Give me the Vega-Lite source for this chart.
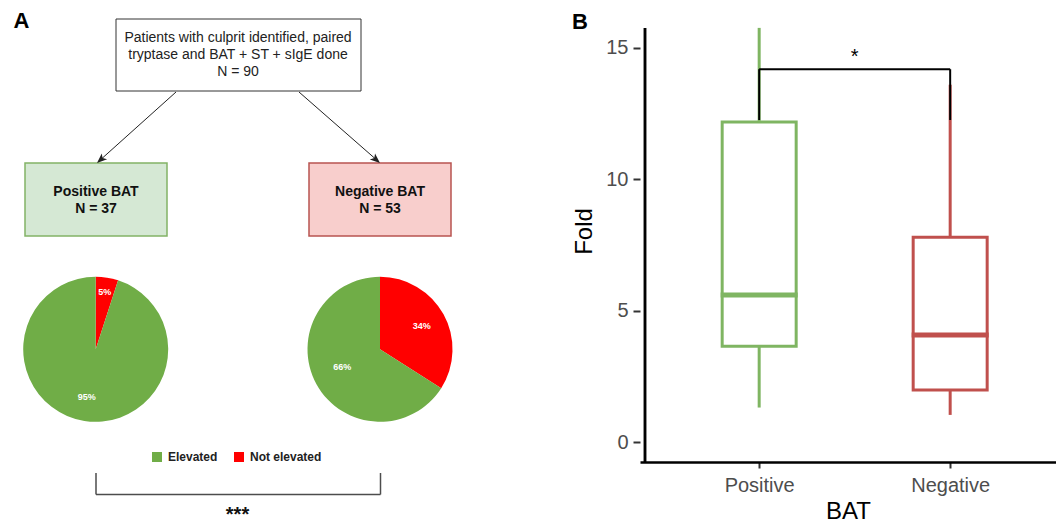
{
  "$schema": "https://vega.github.io/schema/vega-lite/v6.json",
  "padding": 0,
  "bounds": "flush",
  "spacing": 40,
  "background": "white",
  "config": {
    "font": "Liberation Sans",
    "view": {"stroke": null}
  },
  "resolve": {"scale": {"color": "independent"}, "legend": {"color": "independent"}},
  "hconcat": [
    {
      "width": 600,
      "height": 525,
      "layer": [
        {
          "data": {"values": [{"x": 116, "x2": 361, "y": 19, "y2": 91}]},
          "mark": {"type": "rect", "fill": "white", "stroke": "#333333", "strokeWidth": 1},
          "encoding": {
            "x": {"field": "x", "type": "quantitative", "scale": {"domain": [0, 600], "nice": false}, "axis": null},
            "x2": {"field": "x2"},
            "y": {"field": "y", "type": "quantitative", "scale": {"domain": [0, 525], "nice": false, "reverse": true}, "axis": null},
            "y2": {"field": "y2"}
          }
        },
        {
          "data": {"values": [{"x": 25, "x2": 167, "y": 163, "y2": 236}]},
          "mark": {"type": "rect", "fill": "#d5e8d4", "stroke": "#82b366", "strokeWidth": 1.5},
          "encoding": {
            "x": {"field": "x", "type": "quantitative", "scale": {"domain": [0, 600], "nice": false}, "axis": null},
            "x2": {"field": "x2"},
            "y": {"field": "y", "type": "quantitative", "scale": {"domain": [0, 525], "nice": false, "reverse": true}, "axis": null},
            "y2": {"field": "y2"}
          }
        },
        {
          "data": {"values": [{"x": 309, "x2": 451, "y": 163, "y2": 236}]},
          "mark": {"type": "rect", "fill": "#f8cecc", "stroke": "#b85450", "strokeWidth": 1.5},
          "encoding": {
            "x": {"field": "x", "type": "quantitative", "scale": {"domain": [0, 600], "nice": false}, "axis": null},
            "x2": {"field": "x2"},
            "y": {"field": "y", "type": "quantitative", "scale": {"domain": [0, 525], "nice": false, "reverse": true}, "axis": null},
            "y2": {"field": "y2"}
          }
        },
        {
          "data": {"values": [
            {"t": "Patients with culprit identified, paired", "x": 238, "y": 37.7},
            {"t": "tryptase and BAT + ST + sIgE done", "x": 238, "y": 55},
            {"t": "N = 90", "x": 238, "y": 72.3}
          ]},
          "mark": {"type": "text", "fontSize": 14, "color": "#222222", "align": "center", "baseline": "middle"},
          "encoding": {
            "x": {"field": "x", "type": "quantitative", "scale": {"domain": [0, 600], "nice": false}, "axis": null},
            "y": {"field": "y", "type": "quantitative", "scale": {"domain": [0, 525], "nice": false, "reverse": true}, "axis": null},
            "text": {"field": "t"}
          }
        },
        {
          "data": {"values": [
            {"t": "Positive BAT", "x": 96, "y": 191.7},
            {"t": "N = 37", "x": 96, "y": 209.3},
            {"t": "Negative BAT", "x": 380, "y": 191.7},
            {"t": "N = 53", "x": 380, "y": 209.3}
          ]},
          "mark": {"type": "text", "fontSize": 14, "fontWeight": "bold", "color": "#111111", "align": "center", "baseline": "middle"},
          "encoding": {
            "x": {"field": "x", "type": "quantitative", "scale": {"domain": [0, 600], "nice": false}, "axis": null},
            "y": {"field": "y", "type": "quantitative", "scale": {"domain": [0, 525], "nice": false, "reverse": true}, "axis": null},
            "text": {"field": "t"}
          }
        },
        {
          "data": {"values": [
            {"x": 176, "y": 92, "x2": 98, "y2": 162},
            {"x": 299, "y": 92, "x2": 379, "y2": 162}
          ]},
          "mark": {"type": "rule", "color": "#222222", "strokeWidth": 1},
          "encoding": {
            "x": {"field": "x", "type": "quantitative", "scale": {"domain": [0, 600], "nice": false}, "axis": null},
            "x2": {"field": "x2"},
            "y": {"field": "y", "type": "quantitative", "scale": {"domain": [0, 525], "nice": false, "reverse": true}, "axis": null},
            "y2": {"field": "y2"}
          }
        },
        {
          "data": {"values": [{"x": 100.7, "y": 159.7}]},
          "mark": {"type": "point", "shape": "M0,1L-0.8,-1L0,-0.5L0.8,-1Z", "size": 100, "filled": true, "color": "#222222", "opacity": 1, "angle": 48},
          "encoding": {
            "x": {"field": "x", "type": "quantitative", "scale": {"domain": [0, 600], "nice": false}, "axis": null},
            "y": {"field": "y", "type": "quantitative", "scale": {"domain": [0, 525], "nice": false, "reverse": true}, "axis": null}
          }
        },
        {
          "data": {"values": [{"x": 376.2, "y": 159.7}]},
          "mark": {"type": "point", "shape": "M0,1L-0.8,-1L0,-0.5L0.8,-1Z", "size": 100, "filled": true, "color": "#222222", "opacity": 1, "angle": 311},
          "encoding": {
            "x": {"field": "x", "type": "quantitative", "scale": {"domain": [0, 600], "nice": false}, "axis": null},
            "y": {"field": "y", "type": "quantitative", "scale": {"domain": [0, 525], "nice": false, "reverse": true}, "axis": null}
          }
        },
        {
          "data": {"values": [
            {"group": "Positive BAT", "x": 95.7, "y": 349.3, "status": "Not elevated", "start": 0, "end": 5},
            {"group": "Positive BAT", "x": 95.7, "y": 349.3, "status": "Elevated", "start": 5, "end": 100},
            {"group": "Negative BAT", "x": 380, "y": 349.3, "status": "Not elevated", "start": 0, "end": 34},
            {"group": "Negative BAT", "x": 380, "y": 349.3, "status": "Elevated", "start": 34, "end": 100}
          ]},
          "mark": {"type": "arc", "radius": 72.5},
          "encoding": {
            "x": {"field": "x", "type": "quantitative", "scale": {"domain": [0, 600], "nice": false}, "axis": null},
            "y": {"field": "y", "type": "quantitative", "scale": {"domain": [0, 525], "nice": false, "reverse": true}, "axis": null},
            "theta": {"field": "start", "type": "quantitative", "stack": null, "scale": {"domain": [0, 100]}},
            "theta2": {"field": "end"},
            "color": {
              "field": "status", "type": "nominal",
              "scale": {"domain": ["Elevated", "Not elevated"], "range": ["#70ad47", "#ff0000"]},
              "legend": {
                "orient": "none", "legendX": 151, "legendY": 451, "direction": "horizontal", "title": null,
                "symbolType": "square", "symbolSize": 100, "symbolStrokeWidth": 0, "symbolOpacity": 1,
                "labelFontSize": 12, "labelFontWeight": "bold", "labelColor": "#222222", "labelOffset": 5,
                "columnPadding": 15, "padding": 0, "rowPadding": 0
              }
            }
          }
        },
        {
          "data": {"values": [
            {"t": "5%", "x": 104.7, "y": 291.7},
            {"t": "95%", "x": 86.7, "y": 396.7},
            {"t": "34%", "x": 421.7, "y": 326},
            {"t": "66%", "x": 342.3, "y": 366.7}
          ]},
          "mark": {"type": "text", "fontSize": 9, "fontWeight": "bold", "color": "white", "align": "center", "baseline": "middle"},
          "encoding": {
            "x": {"field": "x", "type": "quantitative", "scale": {"domain": [0, 600], "nice": false}, "axis": null},
            "y": {"field": "y", "type": "quantitative", "scale": {"domain": [0, 525], "nice": false, "reverse": true}, "axis": null},
            "text": {"field": "t"}
          }
        },
        {
          "data": {"values": [
            {"x": 96, "y": 473, "x2": 96, "y2": 494.5},
            {"x": 96, "y": 494.5, "x2": 380.5, "y2": 494.5},
            {"x": 380.5, "y": 473, "x2": 380.5, "y2": 494.5}
          ]},
          "mark": {"type": "rule", "color": "#4d4d4d", "strokeWidth": 1.5},
          "encoding": {
            "x": {"field": "x", "type": "quantitative", "scale": {"domain": [0, 600], "nice": false}, "axis": null},
            "x2": {"field": "x2"},
            "y": {"field": "y", "type": "quantitative", "scale": {"domain": [0, 525], "nice": false, "reverse": true}, "axis": null},
            "y2": {"field": "y2"}
          }
        },
        {
          "data": {"values": [{"t": "***", "x": 237.5, "y": 521}]},
          "mark": {"type": "text", "fontSize": 20, "fontWeight": "bold", "color": "#111111", "align": "center", "baseline": "alphabetic"},
          "encoding": {
            "x": {"field": "x", "type": "quantitative", "scale": {"domain": [0, 600], "nice": false}, "axis": null},
            "y": {"field": "y", "type": "quantitative", "scale": {"domain": [0, 525], "nice": false, "reverse": true}, "axis": null},
            "text": {"field": "t"}
          }
        },
        {
          "data": {"values": [
            {"t": "A", "x": 21.5, "y": 28.3},
            {"t": "B", "x": 580, "y": 29.3}
          ]},
          "mark": {"type": "text", "fontSize": 22, "fontWeight": "bold", "color": "black", "align": "center", "baseline": "alphabetic"},
          "encoding": {
            "x": {"field": "x", "type": "quantitative", "scale": {"domain": [0, 600], "nice": false}, "axis": null},
            "y": {"field": "y", "type": "quantitative", "scale": {"domain": [0, 525], "nice": false, "reverse": true}, "axis": null},
            "text": {"field": "t"}
          }
        }
      ]
    },
    {
      "width": 416,
      "height": 462,
      "data": {"values": [
        {"bat": "Positive", "i": 1, "lo": 1.32, "q1": 3.65, "med": 5.6, "q3": 12.17, "hi": 15.75},
        {"bat": "Negative", "i": 2, "lo": 1.04, "q1": 1.99, "med": 4.08, "q3": 7.79, "hi": 13.59}
      ]},
      "layer": [
        {
          "mark": {"type": "rule", "strokeWidth": 3},
          "encoding": {
            "x": {
              "field": "i", "type": "quantitative", "title": "BAT",
              "scale": {"domain": [0.4022, 2.5279], "nice": false, "zero": false},
              "axis": {
                "values": [1, 2], "labelExpr": "datum.value == 1 ? 'Positive' : 'Negative'",
                "grid": false, "domainColor": "black", "domainWidth": 2.5,
                "tickColor": "#333333", "tickWidth": 2, "tickSize": 6,
                "labelFontSize": 20, "labelColor": "#4d4d4d", "labelPadding": 7,
                "titleFontSize": 24, "titleFontWeight": "normal", "titleColor": "black", "titlePadding": 4
              }
            },
            "y": {
              "field": "lo", "type": "quantitative", "title": "Fold",
              "scale": {"domain": [-0.75, 16.81], "nice": false, "zero": false},
              "axis": {
                "values": [0, 5, 10, 15], "domain": false, "grid": false,
                "tickColor": "#333333", "tickWidth": 2, "tickSize": 7,
                "labelFontSize": 20, "labelColor": "#4d4d4d", "labelPadding": 5,
                "titleFontSize": 24, "titleFontWeight": "normal", "titleColor": "black", "titlePadding": 9
              }
            },
            "y2": {"field": "q1"},
            "color": {"field": "bat", "type": "nominal", "scale": {"domain": ["Positive", "Negative"], "range": ["#7fb562", "#c0504d"]}, "legend": null}
          }
        },
        {
          "mark": {"type": "rule", "strokeWidth": 3},
          "encoding": {
            "x": {"field": "i", "type": "quantitative", "title": "BAT"},
            "y": {"field": "q3", "type": "quantitative", "title": "Fold"},
            "y2": {"field": "hi"},
            "color": {"field": "bat", "type": "nominal", "legend": null}
          }
        },
        {
          "mark": {"type": "bar", "filled": false, "size": 74, "strokeWidth": 3},
          "encoding": {
            "x": {"field": "i", "type": "quantitative", "title": "BAT"},
            "y": {"field": "q1", "type": "quantitative", "title": "Fold"},
            "y2": {"field": "q3"},
            "color": {"field": "bat", "type": "nominal", "legend": null}
          }
        },
        {
          "mark": {"type": "tick", "orient": "horizontal", "size": 77, "thickness": 5, "opacity": 1},
          "encoding": {
            "x": {"field": "i", "type": "quantitative", "title": "BAT"},
            "y": {"field": "med", "type": "quantitative", "title": "Fold"},
            "color": {"field": "bat", "type": "nominal", "legend": null}
          }
        },
        {
          "data": {"values": [
            {"i": 1, "i2": 1, "v": 12.25, "v2": 14.18},
            {"i": 1, "i2": 2, "v": 14.18, "v2": 14.18},
            {"i": 2, "i2": 2, "v": 12.25, "v2": 14.18}
          ]},
          "mark": {"type": "rule", "color": "black", "strokeWidth": 2},
          "encoding": {
            "x": {"field": "i", "type": "quantitative", "title": "BAT"},
            "x2": {"field": "i2"},
            "y": {"field": "v", "type": "quantitative", "title": "Fold"},
            "y2": {"field": "v2"}
          }
        },
        {
          "data": {"values": [{"i": 1.5, "v": 14.41, "t": "*"}]},
          "mark": {"type": "text", "fontSize": 20, "color": "black", "align": "center", "baseline": "alphabetic"},
          "encoding": {
            "x": {"field": "i", "type": "quantitative", "title": "BAT"},
            "y": {"field": "v", "type": "quantitative", "title": "Fold"},
            "text": {"field": "t"}
          }
        },
        {
          "mark": {"type": "rule", "color": "black", "strokeWidth": 2.5},
          "encoding": {
            "x": {"datum": 0.4022, "type": "quantitative", "title": "BAT"},
            "y": {"datum": -0.75, "type": "quantitative", "title": "Fold"},
            "y2": {"datum": 15.75}
          }
        }
      ]
    }
  ]
}
